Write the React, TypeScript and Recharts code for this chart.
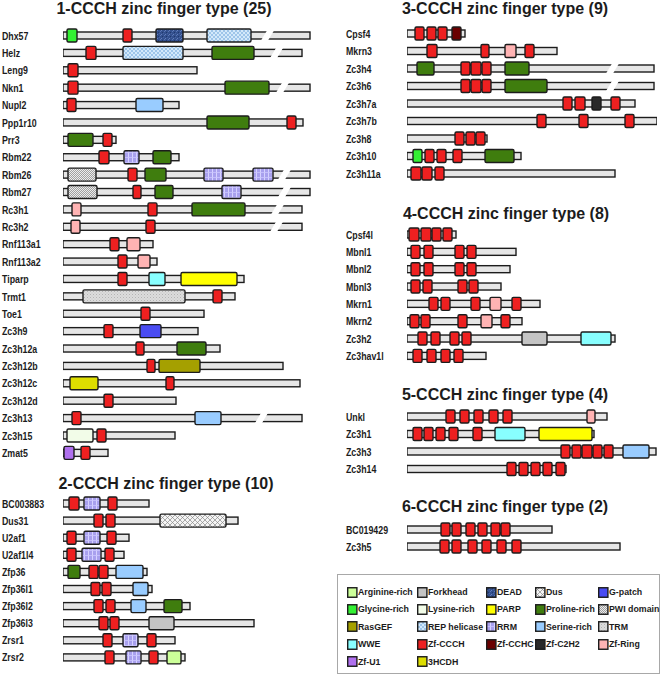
import React from 'react';
import { BarChart, Bar, XAxis, YAxis } from 'recharts';

type Dom = [string, number, number];
interface Protein { name: string; len: number; brk?: number; doms: Dom[] }

// positions are in residue-like units (1 unit ~ 1 px)
const type1: Protein[] = [
  { name: 'Dhx57', len: 247, brk: 200, doms: [['gly', 4, 14], ['ccch', 60, 69], ['dead', 93, 120], ['rep', 144, 188]] },
  { name: 'Helz', len: 239, brk: 209, doms: [['ccch', 23, 33], ['rep', 60, 120], ['pro', 149, 191]] },
  { name: 'Leng9', len: 134, doms: [['ccch', 5, 15]] },
  { name: 'Nkn1', len: 247, brk: 215, doms: [['ccch', 5, 15], ['pro', 162, 206]] },
  { name: 'Nupl2', len: 116, doms: [['ccch', 4, 13], ['ser', 73, 100]] },
  { name: 'Ppp1r10', len: 240, doms: [['pro', 144, 186], ['ccch', 224, 233]] },
  { name: 'Prr3', len: 53, doms: [['pro', 5, 30], ['ccch', 40, 49]] },
  { name: 'Rbm22', len: 116, doms: [['ccch', 36, 46], ['rrm', 61, 76], ['pro', 90, 108]] },
  { name: 'Rbm26', len: 247, brk: 217, doms: [['pwi', 5, 33], ['ccch', 65, 74], ['pro', 82, 103], ['rrm', 141, 160], ['rrm', 190, 210]] },
  { name: 'Rbm27', len: 247, brk: 217, doms: [['pwi', 5, 34], ['ccch', 70, 78], ['pro', 92, 110], ['rrm', 159, 178]] },
  { name: 'Rc3h1', len: 239, brk: 210, doms: [['ring', 9, 18], ['ccch', 85, 94], ['pro', 129, 182]] },
  { name: 'Rc3h2', len: 239, brk: 209, doms: [['ring', 8, 17], ['ccch', 83, 92]] },
  { name: 'Rnf113a1', len: 90, doms: [['ccch', 47, 56], ['ring', 64, 77]] },
  { name: 'Rnf113a2', len: 94, doms: [['ccch', 55, 64], ['ring', 75, 87]] },
  { name: 'Tiparp', len: 181, doms: [['ccch', 55, 64], ['wwe', 86, 102], ['parp', 118, 174]] },
  { name: 'Trmt1', len: 172, doms: [['trm', 20, 122], ['ccch', 150, 159]] },
  { name: 'Toe1', len: 141, doms: [['ccch', 78, 87]] },
  { name: 'Zc3h9', len: 135, doms: [['ccch', 41, 50], ['gp', 77, 98]] },
  { name: 'Zc3h12a', len: 157, doms: [['ccch', 73, 81], ['pro', 114, 143]] },
  { name: 'Zc3h12b', len: 220, doms: [['ccch', 84, 92], ['ras', 96, 137]] },
  { name: 'Zc3h12c', len: 237, doms: [['hcdh', 7, 35], ['ccch', 103, 111]] },
  { name: 'Zc3h12d', len: 113, doms: [['ccch', 41, 50]] },
  { name: 'Zc3h13', len: 239, brk: 194, doms: [['ccch', 9, 18], ['ser', 132, 158]] },
  { name: 'Zc3h15', len: 112, doms: [['lys', 4, 30], ['ccch', 34, 43]] },
  { name: 'Zmat5', len: 45, doms: [['u1', 1, 11], ['ccch', 18, 27]] },
];

const type2: Protein[] = [
  { name: 'BC003883', len: 86, doms: [['ccch', 6, 16], ['rrm', 21, 37], ['ccch', 45, 54]] },
  { name: 'Dus31', len: 175, doms: [['ccch', 31, 40], ['ccch', 43, 52], ['dus', 97, 163]] },
  { name: 'U2af1', len: 66, doms: [['ccch', 4, 13], ['rrm', 21, 37], ['ccch', 44, 53]] },
  { name: 'U2af1l4', len: 61, doms: [['ccch', 4, 13], ['rrm', 19, 38], ['ccch', 42, 51]] },
  { name: 'Zfp36', len: 84, doms: [['pro', 5, 17], ['ccch', 26, 35], ['ccch', 36, 45], ['ser', 53, 80]] },
  { name: 'Zfp36l1', len: 89, doms: [['ccch', 28, 37], ['ccch', 39, 48], ['ser', 70, 85]] },
  { name: 'Zfp36l2', len: 127, doms: [['ccch', 31, 40], ['ccch', 43, 52], ['ser', 68, 83], ['pro', 101, 119]] },
  { name: 'Zfp36l3', len: 191, doms: [['ccch', 36, 45], ['ccch', 47, 56], ['fork', 86, 111]] },
  { name: 'Zrsr1', len: 112, doms: [['ccch', 40, 49], ['rrm', 60, 75], ['ccch', 84, 93]] },
  { name: 'Zrsr2', len: 122, doms: [['ccch', 42, 51], ['rrm', 63, 78], ['ccch', 86, 95], ['arg', 104, 118]] },
];

const type3: Protein[] = [
  { name: 'Cpsf4', len: 58, doms: [['ccch', 8, 17], ['ccch', 20, 29], ['ccch', 31, 40], ['cchc', 45, 54]] },
  { name: 'Mkrn3', len: 150, doms: [['ccch', 20, 30], ['ccch', 74, 82], ['ring', 98, 109], ['ccch', 118, 127]] },
  { name: 'Zc3h4', len: 247, brk: 201, doms: [['pro', 10, 27], ['ccch', 54, 63], ['ccch', 64, 74], ['ccch', 75, 84], ['pro', 98, 122]] },
  { name: 'Zc3h6', len: 247, brk: 201, doms: [['ccch', 54, 63], ['ccch', 64, 74], ['ccch', 75, 84], ['pro', 98, 140]] },
  { name: 'Zc3h7a', len: 228, doms: [['ccch', 156, 165], ['ccch', 168, 178], ['c2h2', 185, 194], ['ccch', 204, 213]] },
  { name: 'Zc3h7b', len: 250, doms: [['ccch', 130, 139], ['ccch', 172, 181], ['ccch', 218, 227]] },
  { name: 'Zc3h8', len: 80, doms: [['ccch', 48, 57], ['ccch', 59, 68], ['ccch', 69, 78]] },
  { name: 'Zc3h10', len: 114, doms: [['gly', 6, 15], ['ccch', 18, 27], ['ccch', 30, 39], ['ccch', 46, 55], ['pro', 78, 107]] },
  { name: 'Zc3h11a', len: 208, doms: [['ccch', 4, 14], ['ccch', 15, 25], ['ccch', 28, 37]] },
];

const type4: Protein[] = [
  { name: 'Cpsf4l', len: 49, doms: [['ccch', 2, 12], ['ccch', 14, 24], ['ccch', 25, 34], ['ccch', 36, 45]] },
  { name: 'Mbnl1', len: 109, doms: [['ccch', 4, 13], ['ccch', 17, 26], ['ccch', 48, 57], ['ccch', 60, 69]] },
  { name: 'Mbnl2', len: 103, doms: [['ccch', 4, 13], ['ccch', 17, 26], ['ccch', 48, 57], ['ccch', 60, 69]] },
  { name: 'Mbnl3', len: 94, doms: [['ccch', 4, 13], ['ccch', 16, 25], ['ccch', 51, 60], ['ccch', 62, 71]] },
  { name: 'Mkrn1', len: 133, doms: [['ccch', 22, 31], ['ccch', 34, 43], ['ccch', 64, 73], ['ring', 83, 94], ['ccch', 105, 114]] },
  { name: 'Mkrn2', len: 115, doms: [['ccch', 3, 12], ['ccch', 14, 23], ['ccch', 51, 60], ['ring', 74, 85], ['ccch', 94, 103]] },
  { name: 'Zc3h2', len: 208, doms: [['ccch', 11, 20], ['ccch', 24, 33], ['ccch', 43, 52], ['ccch', 55, 64], ['fork', 115, 140], ['wwe', 174, 204]] },
  { name: 'Zc3hav1l', len: 79, doms: [['ccch', 6, 15], ['ccch', 20, 29], ['ccch', 34, 43], ['ccch', 47, 56]] },
];

const type5: Protein[] = [
  { name: 'Unkl', len: 200, doms: [['ccch', 39, 48], ['ccch', 53, 62], ['ccch', 67, 76], ['ccch', 82, 91], ['ccch', 96, 105], ['ring', 180, 188]] },
  { name: 'Zc3h1', len: 187, doms: [['ccch', 6, 15], ['ccch', 17, 26], ['ccch', 29, 38], ['ccch', 42, 51], ['ccch', 66, 75], ['wwe', 88, 118], ['parp', 132, 185]] },
  { name: 'Zc3h3', len: 249, doms: [['ccch', 154, 163], ['ccch', 165, 174], ['ccch', 175, 185], ['ccch', 186, 195], ['ccch', 197, 206], ['ser', 216, 242]] },
  { name: 'Zc3h14', len: 159, doms: [['ccch', 100, 109], ['ccch', 112, 121], ['ccch', 124, 133], ['ccch', 136, 145], ['ccch', 149, 158]] },
];

const type6: Protein[] = [
  { name: 'BC019429', len: 145, doms: [['ccch', 34, 43], ['ccch', 45, 54], ['ccch', 59, 68], ['ccch', 71, 80], ['ccch', 84, 93], ['ccch', 94, 103]] },
  { name: 'Zc3h5', len: 213, doms: [['ccch', 33, 42], ['ccch', 45, 54], ['ccch', 61, 70], ['ccch', 75, 84], ['ccch', 90, 99], ['ccch', 105, 114]] },
];

const FILL: Record<string, string> = {
  arg: '#ccff99', fork: '#c4c4c4', dead: 'url(#pDead)', dus: 'url(#pDus)', gp: '#4a4cf2',
  gly: '#33f033', lys: '#f2fce8', parp: '#ffff00', pro: '#3f7d0e', pwi: 'url(#pPwi)',
  ras: '#a5a000', rep: 'url(#pRep)', rrm: 'url(#pRrm)', ser: '#99ccff', trm: 'url(#pTrm)',
  wwe: '#88ffff', ccch: '#ee2020', cchc: '#6a0000', c2h2: '#2a2a2a', ring: '#ffb3b3',
  u1: '#b070ee', hcdh: '#dddd00',
};

const LEGEND: [string, string][] = [
  ['arg', 'Arginine-rich'], ['fork', 'Forkhead'], ['dead', 'DEAD'], ['dus', 'Dus'], ['gp', 'G-patch'],
  ['gly', 'Glycine-rich'], ['lys', 'Lysine-rich'], ['parp', 'PARP'], ['pro', 'Proline-rich'], ['pwi', 'PWI domain'],
  ['ras', 'RasGEF'], ['rep', 'REP helicase'], ['rrm', 'RRM'], ['ser', 'Serine-rich'], ['trm', 'TRM'],
  ['wwe', 'WWE'], ['ccch', 'Zf-CCCH'], ['cchc', 'Zf-CCHC'], ['c2h2', 'Zf-C2H2'], ['ring', 'Zf-Ring'],
  ['u1', 'Zf-U1'], ['hcdh', '3HCDH'],
];

const MAX_DOMS = 7;
const INK = '#1c1c1c';
const SANS = "'Liberation Sans', Arial, sans-serif";

const Backbone = (p: any) => {
  if (!(p.width > 0)) return <g />;
  const cy = p.y + p.height / 2;
  return <rect x={p.x} y={cy - 3.5} width={p.width} height={7} fill="#e6e6e6" stroke={INK} strokeWidth={1.4} />;
};

const BreakMark = (p: any) => {
  if (p.payload?.brk == null || !(p.width > 0)) return <g />;
  const cy = p.y + p.height / 2;
  const x = p.x, w = p.width;
  return <polygon points={`${x - 2},${cy + 5} ${x + 4},${cy - 5} ${x + w + 4},${cy - 5} ${x + w - 2},${cy + 5}`} fill="#fff" />;
};

const domainShape = (i: number) => (p: any) => {
  const d = p.payload?.doms?.[i];
  if (!d || !(p.width > 0)) return <g />;
  return <rect x={p.x} y={p.y} width={p.width} height={p.height} rx={1.5} fill={FILL[d[0]]} stroke={INK} strokeWidth={1.4} />;
};

// narrow bold labels: Arial bold squeezed horizontally
const NameTick = ({ y, payload, labelX }: any) => (
  <text transform={`translate(${labelX},${y}) scale(0.8,1)`} dy={4} textAnchor="start" fill={INK}
    style={{ fontFamily: SANS, fontWeight: 700, fontSize: 11 }}>{payload.value}</text>
);

function Section({ rows, left, top, rowH, axisW, labelX }: { rows: Protein[]; left: number; top: number; rowH: number; axisW: number; labelX: number }) {
  const plotW = 250;
  return (
    <div style={{ position: 'absolute', left, top }}>
      <BarChart width={axisW + plotW} height={rows.length * rowH} data={rows} layout="vertical"
        margin={{ top: 0, right: 0, bottom: 0, left: 0 }} barSize={13} barGap={-13}>
        <XAxis type="number" domain={[0, plotW]} allowDataOverflow tickCount={2} hide />
        <YAxis type="category" dataKey="name" width={axisW} axisLine={false} tickLine={false} interval={0}
          tick={(t: any) => <NameTick {...t} labelX={labelX} />} />
        <Bar dataKey={(r: Protein) => [0, r.len]} shape={Backbone} isAnimationActive={false} />
        <Bar dataKey={(r: Protein) => (r.brk != null ? [r.brk, r.brk + 7] : null)} shape={BreakMark} isAnimationActive={false} />
        {Array.from({ length: MAX_DOMS }, (_, i) => (
          <Bar key={i}
            dataKey={(r: Protein) => (r.doms[i] ? [r.doms[i][1], r.doms[i][2]] : null)}
            shape={domainShape(i)} isAnimationActive={false} />
        ))}
      </BarChart>
    </div>
  );
}

function Title({ text, cx, top }: { text: string; cx: number; top: number }) {
  return (
    <div style={{ position: 'absolute', left: cx - 160, top, width: 320, textAlign: 'center',
      fontFamily: SANS, fontWeight: 700, fontSize: 16, lineHeight: '16px', color: INK, whiteSpace: 'nowrap' }}>
      {text}
    </div>
  );
}

function Patterns() {
  return (
    <svg width={0} height={0} style={{ position: 'absolute' }}>
      <defs>
        <pattern id="pDead" width={4} height={4} patternUnits="userSpaceOnUse">
          <rect width={4} height={4} fill="#33508e" />
          <rect x={0} y={0} width={1} height={1} fill="#5b76b3" />
          <rect x={2} y={1} width={1} height={1} fill="#22386b" />
          <rect x={1} y={3} width={1} height={1} fill="#6680bb" />
          <rect x={3} y={2} width={1} height={1} fill="#4a64a0" />
        </pattern>
        <pattern id="pRep" width={4} height={4} patternUnits="userSpaceOnUse">
          <rect width={4} height={4} fill="#d3e9fa" />
          <path d="M0 0L4 4M4 0L0 4" stroke="#86b6e2" strokeWidth={0.7} />
        </pattern>
        <pattern id="pRrm" width={4} height={5} patternUnits="userSpaceOnUse">
          <rect width={4} height={5} fill="#a8a0ee" />
          <rect x={0} y={0} width={1} height={5} fill="#d6d2ff" />
          <rect x={0} y={0} width={4} height={0.8} fill="#cbc6ff" />
        </pattern>
        <pattern id="pDus" width={5} height={5} patternUnits="userSpaceOnUse">
          <rect width={5} height={5} fill="#f4f4f4" />
          <path d="M0 0L5 5M5 0L0 5" stroke="#8a8a8a" strokeWidth={0.7} />
        </pattern>
        <pattern id="pPwi" width={2} height={2} patternUnits="userSpaceOnUse">
          <rect width={2} height={2} fill="#ececec" />
          <rect x={0} y={0} width={1} height={1} fill="#a0a0a0" />
          <rect x={1} y={1} width={1} height={1} fill="#a0a0a0" />
        </pattern>
        <pattern id="pTrm" width={3} height={3} patternUnits="userSpaceOnUse">
          <rect width={3} height={3} fill="#dcdcdc" />
          <rect x={0} y={0} width={1} height={1} fill="#b4b4b4" />
          <rect x={1.5} y={1.5} width={1} height={1} fill="#c4c4c4" />
        </pattern>
      </defs>
    </svg>
  );
}

function DomainLegend() {
  const colX = [9, 79, 148, 197, 260];
  return (
    <div style={{ position: 'absolute', left: 337, top: 574, width: 321, height: 98, border: '1px solid #a8a8a8',
      background: '#fff' }}>
      {LEGEND.map(([k, label], i) => {
        const c = i % 5, r = Math.floor(i / 5);
        const cy = 17 + r * 17.4;
        return (
          <div key={k} style={{ position: 'absolute', left: colX[c], top: cy - 6, height: 12, display: 'flex', alignItems: 'center',
            whiteSpace: 'nowrap' }}>
            <svg width={10.5} height={11} style={{ display: 'block' }}>
              <rect x={0.7} y={0.75} width={9.2} height={9.5} fill={FILL[k]} stroke={INK} strokeWidth={1.4} />
            </svg>
            <span style={{ marginLeft: 0.5, fontFamily: SANS, fontWeight: 700, fontSize: 8.8, color: INK }}>{label}</span>
          </div>
        );
      })}
    </div>
  );
}

export default function App() {
  return (
    <div style={{ position: 'absolute', left: 0, top: 0, width: 661, height: 674, background: '#fff', overflow: 'hidden' }}>
      <Patterns />
      <Title text="1-CCCH zinc finger type (25)" cx={164} top={1} />
      <Section rows={type1} left={0} top={27.3} rowH={17.39} axisW={63} labelX={2} />
      <Title text="2-CCCH zinc finger type (10)" cx={166} top={475.5} />
      <Section rows={type2} left={0} top={494.8} rowH={17.1} axisW={63} labelX={2} />
      <Title text="3-CCCH zinc finger type (9)" cx={505} top={1} />
      <Section rows={type3} left={330} top={25.3} rowH={17.5} axisW={77} labelX={16} />
      <Title text="4-CCCH zinc finger type (8)" cx={506} top={205.5} />
      <Section rows={type4} left={330} top={225.6} rowH={17.34} axisW={77} labelX={16} />
      <Title text="5-CCCH zinc finger type (4)" cx={505} top={386.5} />
      <Section rows={type5} left={330} top={408} rowH={17.5} axisW={77} labelX={16} />
      <Title text="6-CCCH zinc finger type (2)" cx={505} top={498.5} />
      <Section rows={type6} left={330} top={520.7} rowH={17} axisW={77} labelX={16} />
      <DomainLegend />
    </div>
  );
}
